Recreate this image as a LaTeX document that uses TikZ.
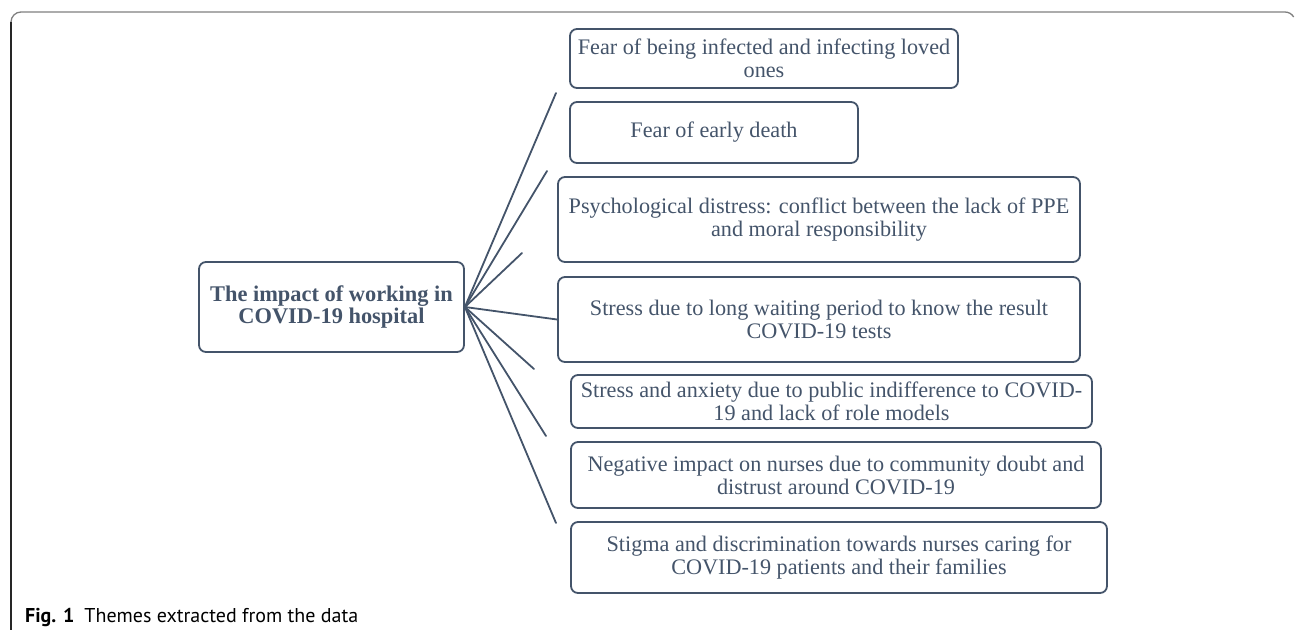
\documentclass[tikz,border=0pt]{standalone}
\usepackage{fontspec}
\setmainfont{Liberation Serif}
\newfontfamily\capfont{PT Sans}
\usepackage{tikz}
\usetikzlibrary{positioning}
\definecolor{slate}{HTML}{44546A}
\definecolor{rulegray}{HTML}{7F7F7F}
\tikzstyle{theme} = [rectangle, draw=slate, line width=1.8pt, rounded corners=7pt, text=slate, align=center, inner sep=2pt, font=\fontsize{22.2}{23}\selectfont]
\tikzstyle{core} = [theme, font=\fontsize{22.4}{21.5}\selectfont\bfseries]
\tikzstyle{link} = [draw=slate, line width=1.8pt, line cap=round]

\begin{document}
\begin{tikzpicture}[x=1pt, y=-1pt] % one unit per pixel, y runs down the page
    \useasboundingbox (0,0) rectangle (1295,630);

    % figure frame: grey top rule, dark left rule
    \draw[rulegray, line width=1.3pt] (11,22) arc[start angle=180, end angle=270, radius=10] -- (1285,12) arc[start angle=270, end angle=330, radius=10];
    \draw[black!85, line width=1.1pt] (11,22) -- (11,630);

    % central theme
    \node (impact) [core, minimum width=265pt, minimum height=90pt] at (331.5,307) {The impact of working in\\COVID-19 hospital};

    % sub-themes, top to bottom
    \node (fear) [theme, minimum width=388pt, minimum height=59pt] at (764,58.5) {Fear of being infected and infecting loved\\ones};
    \node (death) [theme, minimum width=288pt, minimum height=61pt] at (714,132.5) {Fear of early death};
    \node (distress) [theme, minimum width=522pt, minimum height=85pt] at (819,219.5) {Psychological distress: conflict between the lack of PPE\\and moral responsibility};
    \node (waiting) [theme, minimum width=522pt, minimum height=85pt] at (819,319.5) {Stress due to long waiting period to know the result\\COVID-19 tests};
    \node (anxiety) [theme, minimum width=521pt, minimum height=53pt] at (831.5,401.5) {Stress and anxiety due to public indifference to COVID-\\19 and lack of role models};
    \node (doubt) [theme, minimum width=530pt, minimum height=66pt] at (836,475) {Negative impact on nurses due to community doubt and\\distrust around COVID-19};
    \node (stigma) [theme, minimum width=536pt, minimum height=71pt] at (839,557.5) {Stigma and discrimination towards nurses caring for\\COVID-19 patients and their families};

    % loose ends of the spokes
    \coordinate (e1) at (556,93);
    \coordinate (e2) at (547,171);
    \coordinate (e3) at (522,253);
    \coordinate (e5) at (534,369);
    \coordinate (e6) at (546,436);
    \coordinate (e7) at (556,523);

    % spokes from the central theme
    \draw [link] (impact.east) -- (e1);
    \draw [link] (impact.east) -- (e2);
    \draw [link] (impact.east) -- (e3);
    \draw [link] (impact.east) -- (waiting.west);
    \draw [link] (impact.east) -- (e5);
    \draw [link] (impact.east) -- (e6);
    \draw [link] (impact.east) -- (e7);

    % caption
    \node (caption) [anchor=base west, inner sep=0pt, font=\capfont\fontsize{20}{22}\selectfont] at (25,622) {\textbf{Fig. 1}\hspace{10pt}Themes extracted from the data};
\end{tikzpicture}
\end{document}
